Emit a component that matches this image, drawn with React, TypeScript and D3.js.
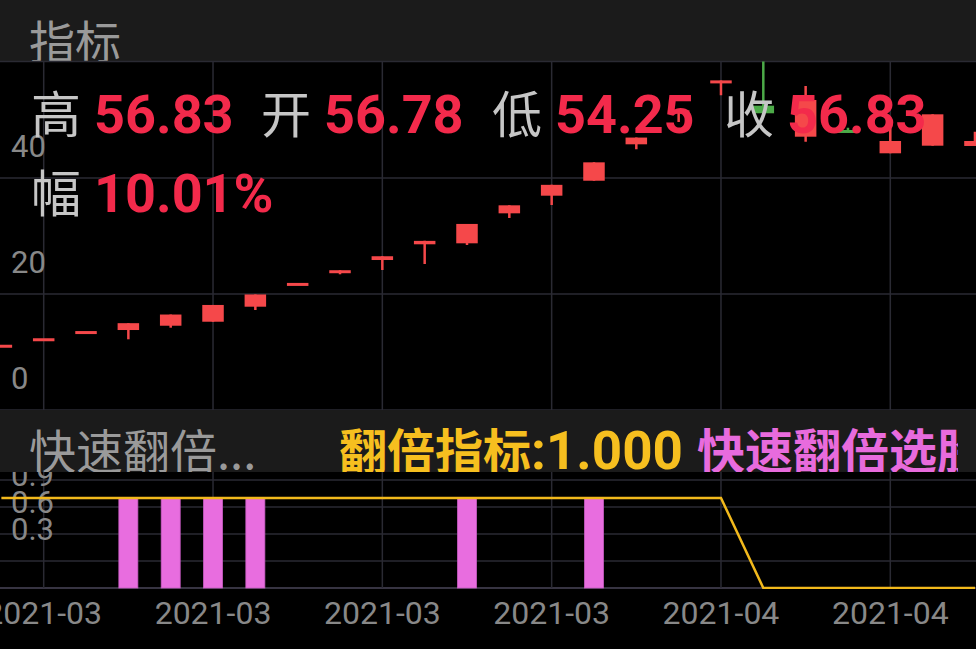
import React from "react";
import * as d3 from "d3";

const dates = [
  "2021-03-09", "2021-03-10", "2021-03-11", "2021-03-12", "2021-03-15", "2021-03-16",
  "2021-03-17", "2021-03-18", "2021-03-19", "2021-03-22", "2021-03-23", "2021-03-24",
  "2021-03-25", "2021-03-26", "2021-03-29", "2021-03-30", "2021-03-31", "2021-04-01",
  "2021-04-02", "2021-04-06", "2021-04-07", "2021-04-08", "2021-04-09", "2021-04-12",
];
const opens = [11.25, 12.37, 13.61, 13.79, 14.53, 15.22, 17.81, 21.91, 23.85, 25.86, 28.57, 28.74, 33.91, 36.95, 39.53, 45.81, 51.35, 56.78, 52.47, 47.12, 48.28, 44.26, 45.57, 45.52];
const highs = [11.25, 12.37, 13.61, 14.97, 16.46, 18.11, 19.92, 21.91, 24.10, 26.51, 29.16, 32.08, 35.29, 38.82, 42.70, 46.97, 51.66, 56.83, 62.51, 55.86, 48.67, 48.57, 50.98, 47.98];
const lows = [11.25, 12.37, 13.61, 12.19, 14.19, 15.22, 17.24, 21.91, 23.40, 24.14, 25.17, 28.45, 33.10, 35.34, 39.53, 44.95, 49.66, 54.25, 51.16, 46.26, 47.81, 44.26, 45.57, 45.52];
const closes = [11.25, 12.37, 13.61, 14.97, 16.46, 18.11, 19.92, 21.91, 24.10, 26.51, 29.16, 32.08, 35.29, 38.82, 42.70, 46.97, 51.66, 56.83, 51.16, 53.45, 47.81, 46.38, 50.98, 46.38];

const doubleIndex = [1, 1, 1, 1, 1, 1, 1, 1, 1, 1, 1, 1, 1, 1, 1, 1, 1, 1, 0, 0, 0, 0, 0, 0];
const quickPick = [0, 0, 0, 1, 1, 1, 1, 0, 0, 0, 0, 1, 0, 0, 1, 0, 0, 0, 0, 0, 0, 0, 0, 0];

const priceTicks = [0, 20, 40];
const priceGrid = [0, 20, 40, 60];
const indTicks = [0.3, 0.6, 0.9];
const indGrid = [0, 0.3, 0.6, 0.9, 1.2];

const infoLabels = ["高", "开", "低", "收"];
const infoValues = ["56.83", "56.78", "54.25", "56.83"];
const changeLabel = "幅";
const changeValue = "10.01%";
const doubleIndexValue = 1.0;

const W = 976;
const H = 649;
const FONT = "Roboto, 'Noto Sans CJK SC', sans-serif";
const CJK = "'Noto Sans CJK SC', Roboto, sans-serif";
const RED = "#f5484a";
const GREEN = "#4caa48";
const TXT_RED = "#f32a4b";
const GRID = "#2a2a33";

export default function App() {
  const mainTop = 61.5;
  const mainBottom = 410;
  const indTop = 472;
  const indBottom = 588;

  const x = d3.scaleLinear().domain([1, 21]).range([43.7, 890.3]);
  const y = d3.scaleLinear().domain([0, 60]).range([410, 62]);
  const yi = d3.scaleLinear().domain([0, 1]).range([588, 498]);

  const candleW = 21.5;
  const barW = 19;

  const gridIdx = d3.range(1, dates.length).filter((i) => (i - 1) % 4 === 0);

  const line = d3
    .line<number>()
    .x((_, i) => x(i))
    .y((d) => yi(d));

  const valXs = [94, 324, 555, 787];
  const labXs = [31, 261, 492, 724];

  return (
    <svg
      width={W}
      height={H}
      style={{ position: "absolute", left: 0, top: 0, background: "#000", display: "block" }}
    >
      <defs>
        <clipPath id="mainClip">
          <rect x={0} y={mainTop} width={W} height={mainBottom - mainTop} />
        </clipPath>
        <clipPath id="topBand">
          <rect x={0} y={0} width={W} height={61} />
        </clipPath>
        <clipPath id="indBand">
          <rect x={0} y={410} width={958} height={62} />
        </clipPath>
        <clipPath id="indClip">
          <rect x={0} y={indTop} width={W} height={indBottom - indTop + 1} />
        </clipPath>
      </defs>

      <rect x={0} y={0} width={W} height={H} fill="#000" />

      {/* top header band */}
      <rect x={0} y={0} width={W} height={61} fill="#1b1b1b" />
      <g clipPath="url(#topBand)">
        <text x={29} y={59} fontFamily={CJK} fontSize={46} fill="#9a9a9a">
          指标
        </text>
      </g>

      {/* main panel grid */}
      {priceGrid.map((v) => (
        <line key={"hg" + v} x1={0} x2={W} y1={y(v) + (v === 60 ? -0.5 : 0)} y2={y(v) + (v === 60 ? -0.5 : 0)} stroke={GRID} strokeWidth={1.5} />
      ))}
      {gridIdx.map((i) => (
        <line key={"vg" + i} x1={x(i)} x2={x(i)} y1={mainTop} y2={mainBottom} stroke={GRID} strokeWidth={1.5} />
      ))}
      {priceTicks.map((v) => (
        <text key={"pt" + v} x={11} y={y(v) - 21} fontFamily={FONT} fontSize={31} fill="#888">
          {v}
        </text>
      ))}

      {/* candles */}
      <g clipPath="url(#mainClip)">
        {dates.map((d, i) => {
          const o = opens[i];
          const c = closes[i];
          const up = c >= o;
          const col = up ? RED : GREEN;
          const cx = x(i);
          const top = y(Math.max(o, c));
          const bot = y(Math.min(o, c));
          const h = Math.max(bot - top, 3);
          return (
            <g key={d}>
              <line x1={cx} x2={cx} y1={y(highs[i])} y2={y(lows[i])} stroke={col} strokeWidth={2.5} />
              <rect x={cx - candleW / 2} y={top} width={candleW} height={h} fill={col} />
            </g>
          );
        })}
      </g>

      {/* selected candle info */}
      {infoLabels.map((l, j) => (
        <g key={"info" + j}>
          <text x={labXs[j]} y={133} fontFamily={CJK} fontSize={50} fill="#c6c6c6">
            {l}
          </text>
          <text x={valXs[j]} y={133} fontFamily={FONT} fontSize={54} fontWeight="bold" fill={TXT_RED}>
            {infoValues[j]}
          </text>
        </g>
      ))}
      <text x={labXs[0]} y={212} fontFamily={CJK} fontSize={50} fill="#c6c6c6">
        {changeLabel}
      </text>
      <text x={valXs[0]} y={212} fontFamily={FONT} fontSize={54} fontWeight="bold" fill={TXT_RED}>
        {changeValue}
      </text>

      {/* indicator header band */}
      <rect x={0} y={410} width={W} height={62} fill="#1b1b1b" />
      <g clipPath="url(#indBand)">
        <text x={29} y={469} fontFamily={CJK} fontSize={47} fill="#9a9a9a">
          快速翻倍...
        </text>
        <text x={339} y={469} fontWeight="bold" fill="#f6bf1f">
          <tspan fontFamily={CJK} fontSize={48}>翻倍指标</tspan>
          <tspan fontFamily={FONT} fontSize={53}>{":" + d3.format(".3f")(doubleIndexValue)}</tspan>
        </text>
        <text x={697} y={469} fontFamily={CJK} fontSize={48} fontWeight="bold" fill="#e86bdd">
          快速翻倍选股
        </text>
      </g>

      {/* indicator panel */}
      <rect x={0} y={indTop} width={W} height={indBottom - indTop} fill="#000" />
      {indGrid.map((v) => (
        <line key={"ig" + v} x1={0} x2={W} y1={yi(v)} y2={yi(v)} stroke={v === 0 ? "#4a4658" : GRID} strokeWidth={1.5} />
      ))}
      {gridIdx.map((i) => (
        <line key={"ivg" + i} x1={x(i)} x2={x(i)} y1={indTop} y2={indBottom} stroke={GRID} strokeWidth={1.5} />
      ))}
      <g clipPath="url(#indClip)">
        {indTicks.map((v) => (
          <text key={"it" + v} x={11} y={yi(v) - 21} fontFamily={FONT} fontSize={31} fill="#888">
            {v.toFixed(1)}
          </text>
        ))}
        {quickPick.map((v, i) =>
          v > 0 ? (
            <rect
              key={"qp" + i}
              x={x(i) - barW / 2}
              y={yi(v)}
              width={barW}
              height={yi(0) - yi(v)}
              fill="#e86ddf"
              stroke="#c95cc4"
              strokeWidth={0.8}
            />
          ) : null
        )}
        <path d={line(doubleIndex) || ""} fill="none" stroke="#f2b91c" strokeWidth={2.5} />
      </g>

      {/* x axis labels */}
      {gridIdx.map((i) => (
        <text key={"xl" + i} x={x(i)} y={624} textAnchor="middle" fontFamily={FONT} fontSize={32} fill="#888">
          {dates[i].slice(0, 7)}
        </text>
      ))}
    </svg>
  );
}
